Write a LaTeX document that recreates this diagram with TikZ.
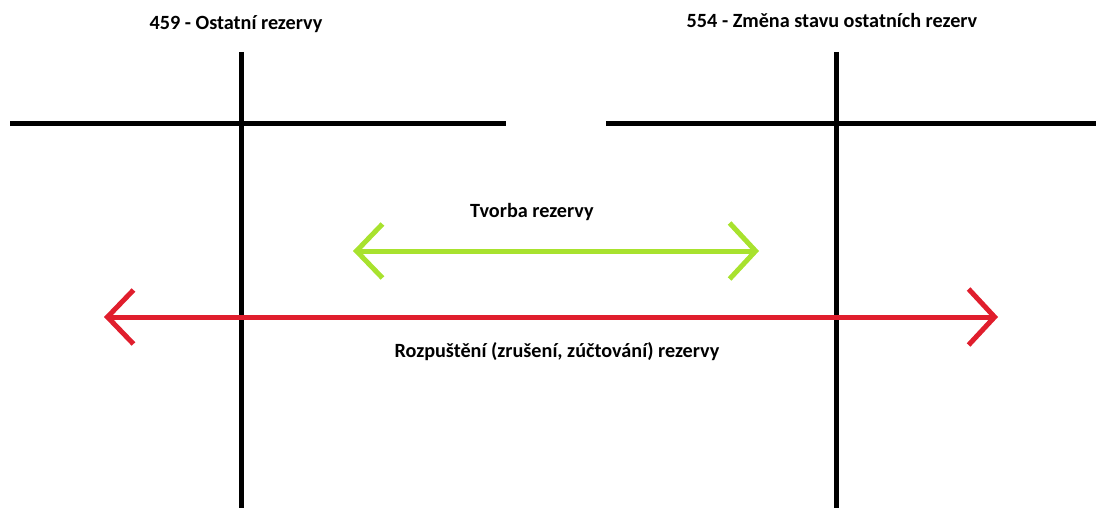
\documentclass[tikz,border=0pt]{standalone}
\usepackage{fontspec}
\setmainfont{Carlito}
\usetikzlibrary{positioning, arrows.meta}

\definecolor{tvorbagreen}{RGB}{168,226,46}
\definecolor{rozpred}{RGB}{224,30,45}

\begin{document}
\begin{tikzpicture}[x=1pt, y=-1pt, line width=5pt,
    label/.style={font=\fontsize{20.2}{23}\selectfont\bfseries, inner sep=0pt},
    barbs/.style={{Straight Barb[length=26pt, width=54pt]}-{Straight Barb[length=26pt, width=56pt]}}]
    \useasboundingbox (0,0) rectangle (1096,508);

    % T accounts (459 left, 554 right)
    \coordinate (l459top) at (241,52);
    \coordinate (l459bot) at (241,508);
    \coordinate (l459w) at (10,124);
    \coordinate (l459e) at (506,124);
    \coordinate (r554top) at (836,52);
    \coordinate (r554bot) at (836,508);
    \coordinate (r554w) at (606,124);
    \coordinate (r554e) at (1096,124);
    \node[label] (t459) at (236,24) {459 - Ostatní rezervy};
    \node[label] (t554) at (832,20) {554 - Změna stavu ostatních rezerv};
    \draw (l459top) -- (l459bot);
    \draw (l459w) -- (l459e);
    \draw (r554top) -- (r554bot);
    \draw (r554w) -- (r554e);

    % Tvorba rezervy
    \coordinate (tvA) at (353,251);
    \coordinate (tvB) at (759,251);
    \node[label] (tvorba) at (532,212) {Tvorba rezervy};
    \draw[barbs, tvorbagreen] (tvA) -- (tvB);

    % Rozpusteni rezervy
    \coordinate (roA) at (104,317);
    \coordinate (roB) at (998,317);
    \node[label] (rozp) at (557,352) {Rozpuštění (zrušení, zúčtování) rezervy};
    \draw[barbs, rozpred] (roA) -- (roB);
\end{tikzpicture}
\end{document}
